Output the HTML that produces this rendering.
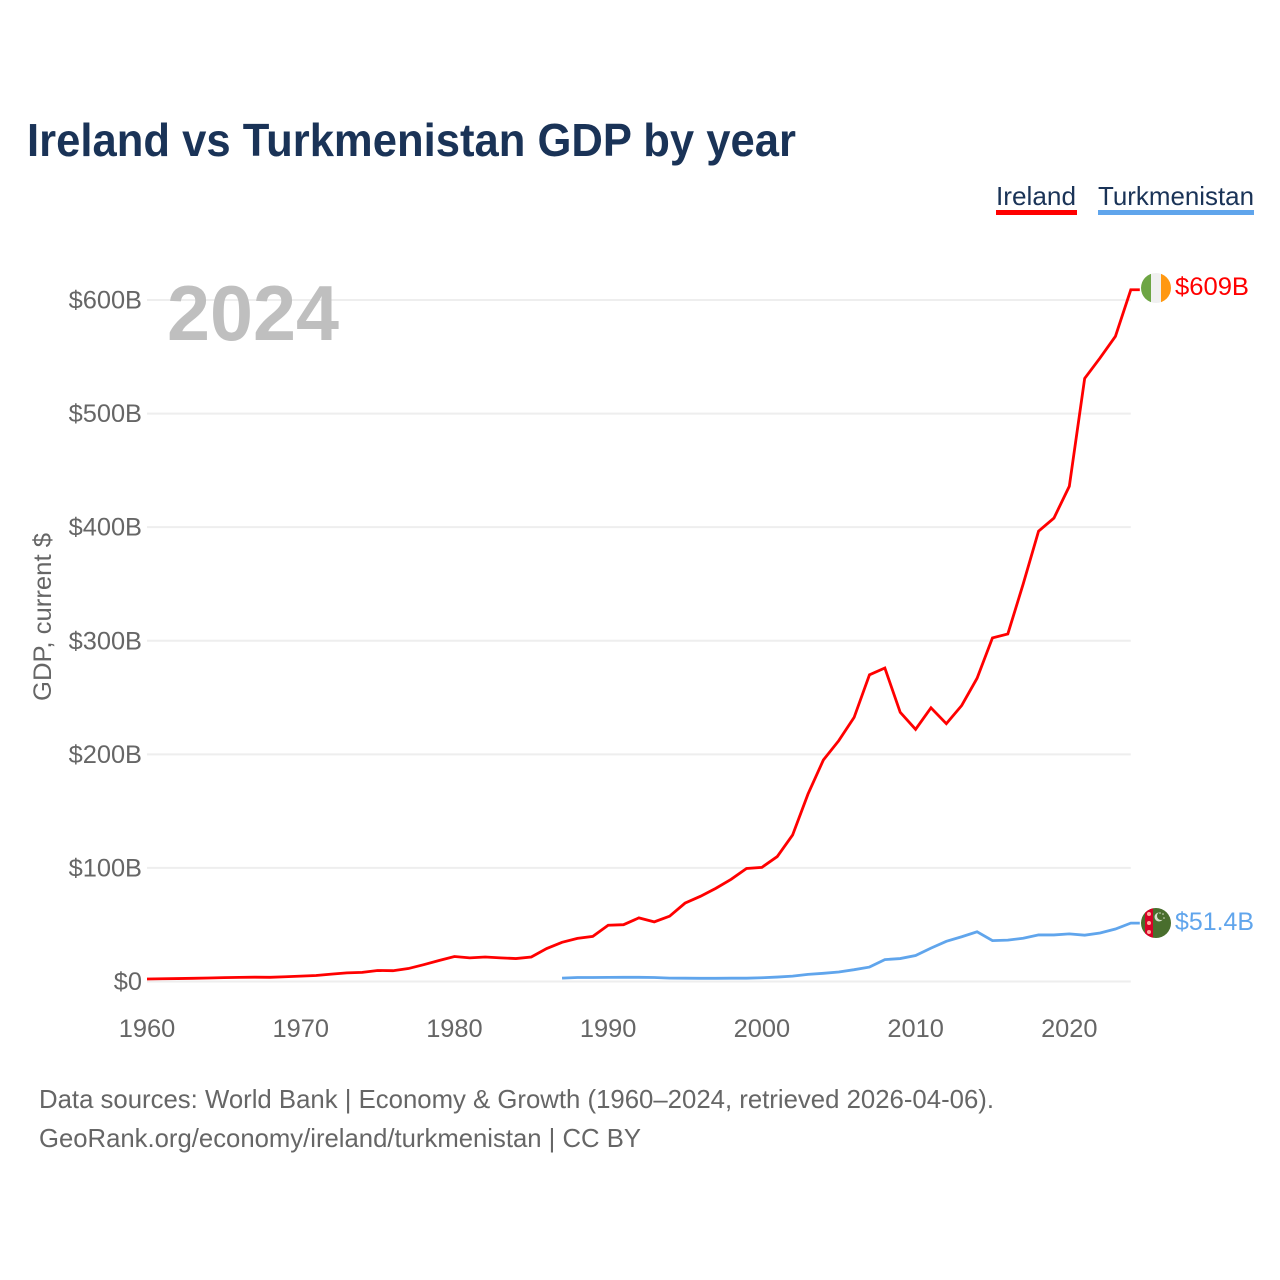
<!DOCTYPE html>
<html>
<head>
<meta charset="utf-8">
<title>Ireland vs Turkmenistan GDP by year</title>
<style>
html,body{margin:0;padding:0;background:#fff;width:1280px;height:1280px;overflow:hidden}
svg{display:block}
text{font-family:"Liberation Sans",sans-serif}
</style>
</head>
<body>
<svg id="chart" width="1280" height="1280" viewBox="0 0 1280 1280" xmlns="http://www.w3.org/2000/svg">
  <text x="27" y="156" font-size="46" font-weight="700" fill="#1a3357" textLength="769" lengthAdjust="spacingAndGlyphs">Ireland vs Turkmenistan GDP by year</text>

  <g>
    <g>
      <text x="996" y="205" font-size="26" fill="#1a3357" textLength="80" lengthAdjust="spacingAndGlyphs">Ireland</text>
      <rect x="996" y="210" width="81" height="5" fill="#ff0000"/>
    </g>
    <g>
      <text x="1098" y="205" font-size="26" fill="#1a3357" textLength="156" lengthAdjust="spacingAndGlyphs">Turkmenistan</text>
      <rect x="1098" y="210" width="156" height="5" fill="#60a5ec"/>
    </g>
  </g>

  <g id="grid"></g>
  <g id="yticks"></g>
  <g id="xticks"></g>

  <text transform="translate(51,617) rotate(-90)" text-anchor="middle" font-size="25" fill="#666666" textLength="168" lengthAdjust="spacingAndGlyphs">GDP, current $</text>
  <text x="167" y="340" font-size="78" font-weight="700" fill="#bfbfbf" textLength="172" lengthAdjust="spacingAndGlyphs">2024</text>

  <g id="series"></g>

  <defs>
    <clipPath id="clip-ie"><circle cx="1156" cy="288" r="15"/></clipPath>
    <clipPath id="clip-tm"><circle cx="1156" cy="923" r="15"/></clipPath>
  </defs>
  <g clip-path="url(#clip-ie)">
    <rect x="1141" y="273" width="10" height="30" fill="#6da544"/>
    <rect x="1151" y="273" width="10" height="30" fill="#f0f0f0"/>
    <rect x="1161" y="273" width="10" height="30" fill="#ff9811"/>
  </g>
  <g clip-path="url(#clip-tm)">
    <rect x="1141" y="908" width="30" height="30" fill="#496e2d"/>
    <rect x="1145" y="908" width="8" height="30" fill="#d80027"/>
    <circle cx="1149" cy="914" r="2" fill="#ffb0a0"/>
    <circle cx="1149" cy="923" r="2" fill="#ffb0a0"/>
    <circle cx="1149" cy="932" r="2" fill="#ffb0a0"/>
    <circle cx="1159" cy="917" r="4.5" fill="#d8e0cc"/>
    <circle cx="1161" cy="916" r="4" fill="#496e2d"/>
    <circle cx="1163" cy="914" r="0.8" fill="#d8e0cc"/>
    <circle cx="1164" cy="918" r="0.8" fill="#d8e0cc"/>
    <circle cx="1160" cy="913" r="0.8" fill="#d8e0cc"/>
  </g>

  <text x="1175" y="295" font-size="25" fill="#ff0000" textLength="74" lengthAdjust="spacingAndGlyphs">$609B</text>
  <text x="1175" y="930" font-size="25" fill="#60a5ec" textLength="79" lengthAdjust="spacingAndGlyphs">$51.4B</text>

  <text x="39" y="1108" font-size="26" fill="#666666" textLength="955" lengthAdjust="spacingAndGlyphs">Data sources: World Bank | Economy &amp; Growth (1960–2024, retrieved 2026-04-06).</text>
  <text x="39" y="1147" font-size="26" fill="#666666" textLength="602" lengthAdjust="spacingAndGlyphs">GeoRank.org/economy/ireland/turkmenistan | CC BY</text>
</svg>
<script>
var irelandStartYear = 1960;
var turkmenistanStartYear = 1987;
var irelandValues = [2.2,2.4,2.6,2.8,3.1,3.4,3.6,3.8,3.7,4.2,4.7,5.3,6.5,7.6,8.0,9.7,9.5,11.4,14.8,18.5,22,20.8,21.6,20.8,20.2,21.6,29,34.5,38,39.7,49.5,50,56,52.5,57.5,69,75,82,90,99.5,100.5,110,129,165,195,212,232.5,270,276,237,222,241,227,243,267,302.5,306,350,396.5,408,436,531,549,568,609];
var turkmenistanValues = [3.0,3.5,3.5,3.6,3.7,3.7,3.5,3.0,2.9,2.8,2.8,2.9,2.9,3.3,3.9,4.7,6.3,7.2,8.4,10.4,12.7,19.3,20.2,22.9,29.4,35.4,39.4,43.8,36,36.4,38.1,41,41,41.9,40.8,42.7,46.2,51.4];
var yTickValues = [0,100,200,300,400,500,600];
var yTickLabels = ["$0","$100B","$200B","$300B","$400B","$500B","$600B"];
var xTickValues = [1960,1970,1980,1990,2000,2010,2020];

var NS = "http://www.w3.org/2000/svg";
function xScale(year){ return 147 + (year - 1960) * (1130.8 - 147) / 64; }
function yScale(v){ return 981.5 - v * (981.5 - 300) / 600; }

var grid = document.getElementById("grid");
var yticks = document.getElementById("yticks");
var xticks = document.getElementById("xticks");
var series = document.getElementById("series");

yTickValues.forEach(function(v, i){
  var l = document.createElementNS(NS, "line");
  
  
  l.setAttribute("x1", xScale(1960));
  l.setAttribute("x2", xScale(2024));
  l.setAttribute("y1", yScale(v));
  l.setAttribute("y2", yScale(v));
  l.setAttribute("stroke", "#eeeeee");
  l.setAttribute("stroke-width", "2");
  grid.appendChild(l);
  var t = document.createElementNS(NS, "text");
  
  
  t.setAttribute("x", 142);
  t.setAttribute("y", yScale(v) + 8.5);
  t.setAttribute("text-anchor", "end");
  t.setAttribute("font-size", "25.4");
  t.setAttribute("fill", "#666666");
  t.textContent = yTickLabels[i];
  yticks.appendChild(t);
});

xTickValues.forEach(function(y){
  var t = document.createElementNS(NS, "text");
  
  
  t.setAttribute("x", xScale(y));
  t.setAttribute("y", 1037);
  t.setAttribute("text-anchor", "middle");
  t.setAttribute("font-size", "25.4");
  t.setAttribute("fill", "#666666");
  t.textContent = String(y);
  xticks.appendChild(t);
});

function linePoints(values, startYear){
  var pts = values.map(function(v, i){
    return xScale(startYear + i).toFixed(2) + "," + yScale(v).toFixed(2);
  });
  var last = values[values.length - 1];
  pts.push((xScale(startYear + values.length - 1) + 9).toFixed(2) + "," + yScale(last).toFixed(2));
  return pts.join(" ");
}

var blue = document.createElementNS(NS, "polyline");


blue.setAttribute("points", linePoints(turkmenistanValues, turkmenistanStartYear));
blue.setAttribute("fill", "none");
blue.setAttribute("stroke", "#60a5ec");
blue.setAttribute("stroke-width", "2.8");
series.appendChild(blue);

var red = document.createElementNS(NS, "polyline");


red.setAttribute("points", linePoints(irelandValues, irelandStartYear));
red.setAttribute("fill", "none");
red.setAttribute("stroke", "#ff0000");
red.setAttribute("stroke-width", "2.8");
series.appendChild(red);
</script>
</body>
</html>
